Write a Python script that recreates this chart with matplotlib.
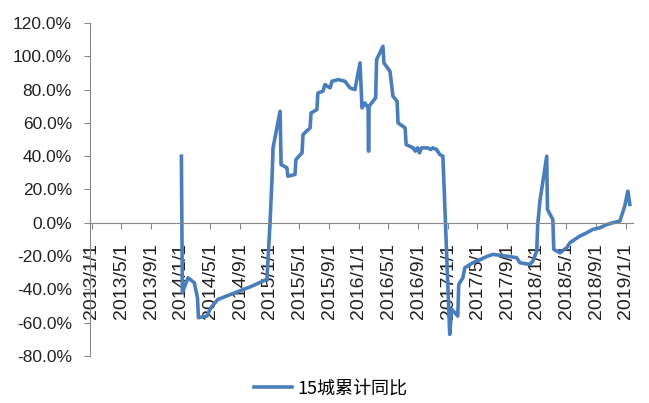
import numpy as np
import pandas as pd
import matplotlib
matplotlib.use('Agg')
from matplotlib import pyplot as plt

dates = ['2014-01-03', '2014-01-07', '2014-01-30', '2014-02-25', '2014-03-10', '2014-03-14',
         '2014-04-18', '2014-05-04', '2014-06-02', '2014-08-11', '2014-10-20', '2014-12-04',
         '2014-12-20', '2015-01-02', '2015-01-10', '2015-01-14', '2015-02-12', '2015-02-16',
         '2015-03-12', '2015-03-16', '2015-04-14', '2015-04-18', '2015-05-13', '2015-05-17',
         '2015-06-15', '2015-06-19', '2015-07-13', '2015-07-17', '2015-08-07', '2015-08-15',
         '2015-09-05', '2015-09-13', '2015-10-08', '2015-11-05', '2015-11-26', '2015-12-16',
         '2016-01-06', '2016-01-14', '2016-01-26', '2016-02-08', '2016-02-10', '2016-02-12',
         '2016-03-10', '2016-03-14', '2016-04-09', '2016-04-13', '2016-05-08', '2016-05-20',
         '2016-06-06', '2016-06-10', '2016-07-09', '2016-07-13', '2016-08-11', '2016-08-20',
         '2016-08-29', '2016-09-06', '2016-09-14', '2016-10-10', '2016-10-22', '2016-10-30',
         '2016-11-15', '2016-11-28', '2016-12-11', '2017-01-08', '2017-01-16', '2017-01-29',
         '2017-02-10', '2017-02-14', '2017-03-03', '2017-03-11', '2017-04-13', '2017-04-29',
         '2017-06-13', '2017-07-04', '2017-08-30', '2017-10-10', '2017-10-23', '2017-12-03',
         '2017-12-15', '2017-12-31', '2018-01-04', '2018-01-13', '2018-02-10', '2018-02-13',
         '2018-03-07', '2018-03-11', '2018-04-05', '2018-05-03', '2018-05-16', '2018-06-05',
         '2018-06-26', '2018-07-24', '2018-08-18', '2018-09-16', '2018-10-15', '2018-11-08',
         '2018-12-07', '2018-12-27', '2019-01-09', '2019-01-17']
yoy = [40, -42, -33, -36, -45, -57,
       -56, -51, -46, -42, -38, -35,
       -34, 1, 27, 45, 67, 35,
       33, 28, 29, 38, 42, 53,
       57, 66, 68, 78, 79, 83,
       81, 85, 86, 85, 81, 80,
       96, 69, 72, 69, 43, 70,
       75, 98, 106, 96, 91, 76,
       73, 60, 57, 47, 45, 43,
       45, 42, 45, 45, 44, 45,
       44, 41, 40, -67, -52, -54,
       -56, -37, -33, -27, -24, -23,
       -20, -19, -20, -21, -24, -25,
       -23, -17, -1, 13, 40, 8,
       2, -16, -18, -15, -12, -10,
       -8, -6, -4, -3, -1, 0,
       1, 10, 19, 11]

tick_labels = ['2013/1/1', '2013/5/1', '2013/9/1', '2014/1/1', '2014/5/1', '2014/9/1',
               '2015/1/1', '2015/5/1', '2015/9/1', '2016/1/1', '2016/5/1', '2016/9/1',
               '2017/1/1', '2017/5/1', '2017/9/1', '2018/1/1', '2018/5/1', '2018/9/1',
               '2019/1/1']
y_ticks = [-80, -60, -40, -20, 0, 20, 40, 60, 80, 100, 120]
series_name = '15城累计同比'

x = pd.to_datetime(dates)
y = np.array(yoy) / 100.0
ticks = pd.to_datetime(tick_labels, format='%Y/%m/%d')

plt.rcParams['font.family'] = ['Liberation Sans', 'Noto Sans CJK SC', 'DejaVu Sans']

fig = plt.figure(figsize=(6.49, 4.03), dpi=100)
ax = fig.add_axes([90 / 649, 47 / 403, 543 / 649, 333 / 403])
ax.set_axisbelow(True)

ax.plot(x, y, color='#4A7EBB', linewidth=2.6, label=series_name, solid_joinstyle='round')

ax.set_ylim(-0.8, 1.2)
ax.set_yticks(np.array(y_ticks) / 100.0)
ax.set_yticklabels(['%.1f%%' % v for v in y_ticks])
ax.set_xlim(pd.Timestamp('2012-12-24'), pd.Timestamp('2019-01-30'))
ax.set_xticks(ticks)
ax.set_xticklabels(tick_labels)

for s in ['top', 'right']:
    ax.spines[s].set_visible(False)
ax.spines['bottom'].set_position(('data', 0))
ax.spines['left'].set_color('#888888')
ax.spines['bottom'].set_color('#888888')
ax.tick_params(axis='y', direction='out', length=4, color='#888888', pad=9,
               labelsize=12.5, labelcolor='#222222')
ax.tick_params(axis='x', direction='out', length=4.5, color='#888888', pad=10,
               labelsize=14, labelcolor='#222222', labelrotation=90)
for lbl in ax.get_xticklabels():
    lbl.set_va('top')
    lbl.set_ha('center')

fig.legend(loc='center', bbox_to_anchor=(0.51, 0.037), frameon=False,
           prop={'family': 'Noto Sans CJK SC', 'size': 13}, handlelength=2.1, handletextpad=0.3)

fig.savefig('out.png', dpi=100)
